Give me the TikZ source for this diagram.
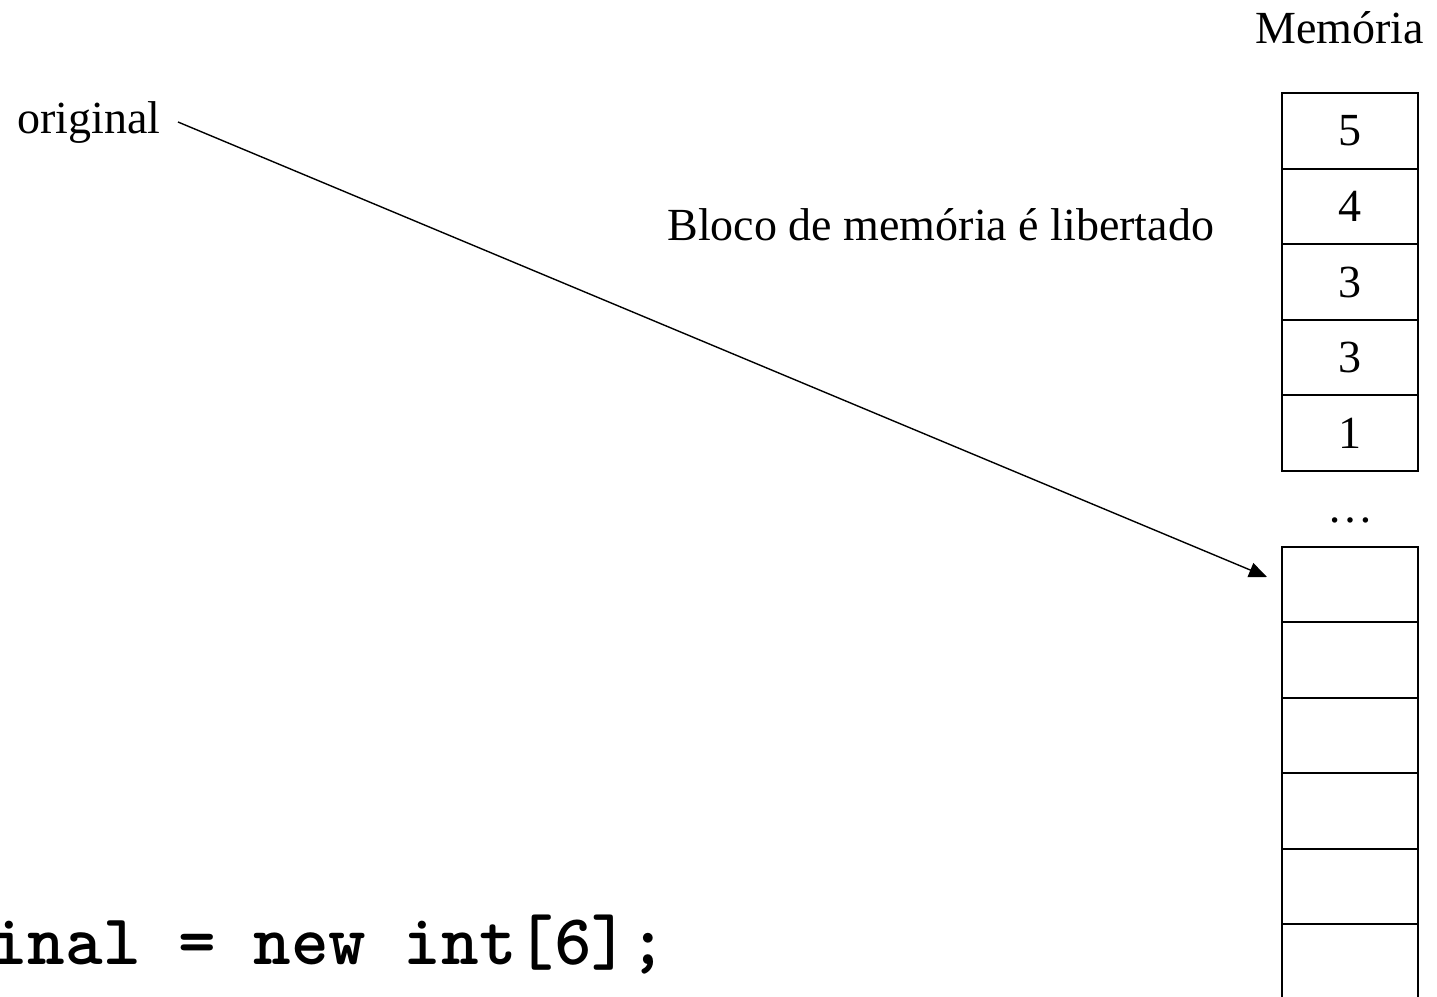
\documentclass[tikz,border=0pt]{standalone}
\usepackage{fontspec}
\setmainfont{Liberation Serif}
\newfontfamily\codefont{lmmonolt10-bold.otf}
\usetikzlibrary{arrows.meta}
\begin{document}
\begin{tikzpicture}[x=0.5pt,y=-0.5pt,
  label text/.style={inner sep=0pt,anchor=base west,font=\fontsize{23pt}{27pt}\selectfont},
  cell/.style={draw,line width=1pt,minimum width=68pt,minimum height=37.75pt,
    inner sep=0pt,font=\fontsize{23pt}{27pt}\selectfont},
  pointer/.style={line width=0.7pt,-{Triangle[length=9pt,width=7.5pt]}}]
  \useasboundingbox (0,0) rectangle (1437,997);

  % labels
  \node[label text] (mem) at (1255,43) {Memória};
  \node[label text] (orig) at (17,133) {original};
  \node[label text] (freed) at (667,240) {Bloco de memória é libertado};
  \node[inner sep=0pt,anchor=base west,font=\codefont\fontsize{35.8pt}{40pt}\selectfont]
    (code) at (-10,964) {inal = new int[6];};

  % upper block of memory cells
  \node[cell] (c1) at (1350,131) {5};
  \node[cell] (c2) at (1350,206.5) {4};
  \node[cell] (c3) at (1350,282) {3};
  \node[cell] (c4) at (1350,357.5) {3};
  \node[cell] (c5) at (1350,433) {1};

  \node[inner sep=0pt,font=\fontsize{23pt}{27pt}\selectfont] (dots) at (1350,520) {…};

  % lower block of memory cells
  \node[cell] (d1) at (1350,584.5) {};
  \node[cell] (d2) at (1350,660) {};
  \node[cell] (d3) at (1350,735.5) {};
  \node[cell] (d4) at (1350,811) {};
  \node[cell] (d5) at (1350,886.5) {};
  \node[cell] (d6) at (1350,962) {};

  % pointer from the variable to the block
  \coordinate (pstart) at (178,122);
  \coordinate (pend) at (1267,577);
  \draw[pointer] (pstart) -- (pend);
\end{tikzpicture}
\end{document}
